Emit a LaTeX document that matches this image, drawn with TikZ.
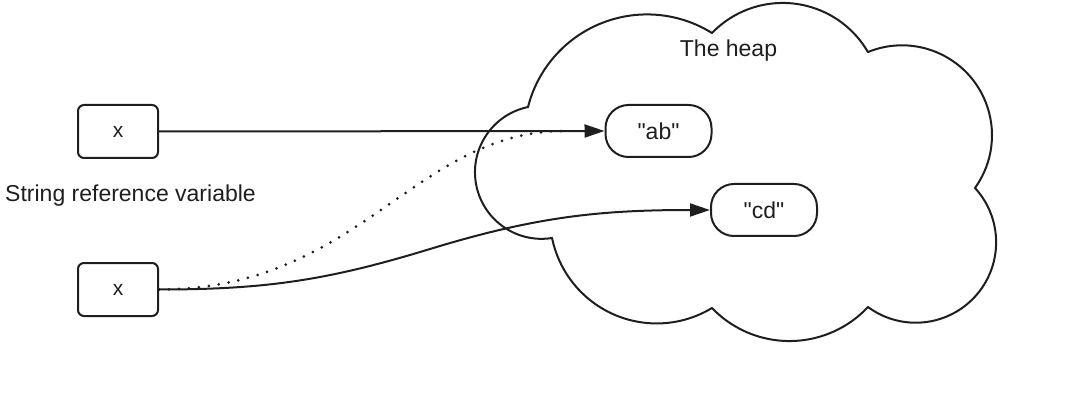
\documentclass[tikz,border=0pt]{standalone}
\usepackage{fontspec}
\setmainfont{Liberation Sans}[Ligatures=TeXOff]
\usetikzlibrary{arrows.meta}
\definecolor{ink}{HTML}{1E1E1E}
\begin{document}
\begin{tikzpicture}[x=1pt,y=1pt,
  varbox/.style={draw=ink, line width=2pt, rounded corners=6pt, minimum width=80pt, minimum height=53pt, inner sep=0pt, text=ink, font=\fontsize{21}{25}\selectfont},
  strbox/.style={draw=ink, line width=2pt, rounded corners=23pt, minimum width=106pt, minimum height=52pt, inner sep=0pt, text=ink, font=\fontsize{23}{28}\selectfont},
  lbl/.style={font=\fontsize{23}{28}\selectfont, inner sep=0pt, text=ink},
  conn/.style={draw=ink, line width=2pt, -{Triangle[length=20pt,width=13pt]}},
  dotconn/.style={draw=ink, line width=3pt, line cap=round, dash pattern=on 0pt off 10pt},
  cloudline/.style={draw=ink, line width=2pt, line cap=round}
]
\useasboundingbox (0,0) rectangle (1080,405);

% the heap (cloud)
\draw[cloudline] (528,298) arc[start angle=165.75, end angle=58, radius=122.8];
\draw[cloudline] (712,372) arc[start angle=136, end angle=30.05, radius=98.4];
\draw[cloudline] (868,353) arc[start angle=112.2, end angle=-35.85, radius=90];
\draw[cloudline] (975,217) arc[start angle=42.5, end angle=-126.4, radius=80.4];
\draw[cloudline] (868,98) arc[start angle=-43.1, end angle=-136.1, radius=107.5];
\draw[cloudline] (712,97) arc[start angle=-58.8, end angle=-168.45, radius=106.8];
\draw[cloudline] (552,167) arc[start angle=-81, end angle=-258.3, radius=66.6];

\node[lbl, anchor=base] (heap) at (728.5,348) {The heap};

% nodes
\node[varbox] (b1) at (118,273.5) {x};
\node[varbox] (b2) at (118,115.5) {x};
\node[lbl, anchor=base] (srv) at (130.5,203) {String reference variable};
\node[strbox] (ab) at (658.5,274) {"ab"};
\node[strbox] (cd) at (764,195) {"cd"};

\coordinate (mid) at (430,156);

% connectors
\draw[dotconn] (b2.east) .. controls +(200,0) and +(-150,0) .. ([xshift=-40pt]ab.west);
\draw[conn] (b1.east) -- (ab.west);
\draw[conn] (b2.east) to[out=0,in=197] (mid) to[out=17,in=180] (cd.west);
\end{tikzpicture}
\end{document}
